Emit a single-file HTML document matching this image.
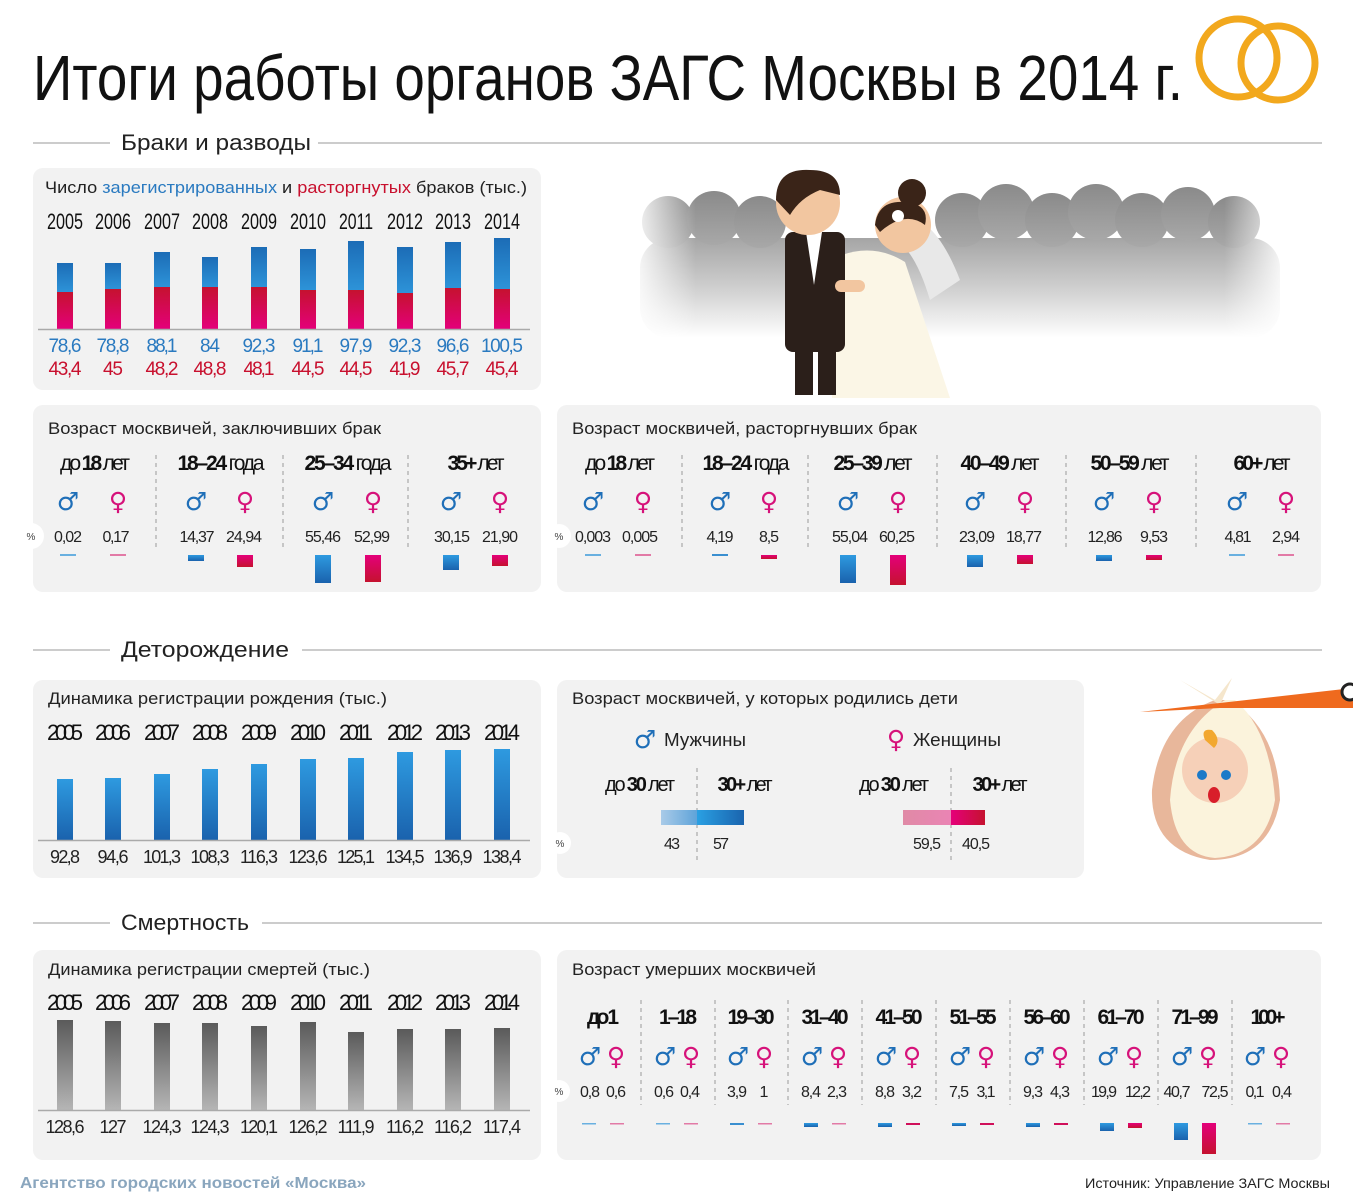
<!DOCTYPE html>
<html><head><meta charset="utf-8"><style>
html,body{margin:0;padding:0;background:#fff;width:1353px;height:1200px;overflow:hidden}
svg{display:block}
.n{font-family:"Liberation Sans",sans-serif}
.s{font-family:"Liberation Sans",sans-serif}
.m{fill:#1f6fb8;font-family:"DejaVu Sans",sans-serif;font-size:25px}
.f{fill:#d6127a;font-family:"DejaVu Sans",sans-serif;font-size:25px}
</style></head><body>
<svg width="1353" height="1200" viewBox="0 0 1353 1200" xmlns="http://www.w3.org/2000/svg" lengthAdjust="spacingAndGlyphs">
<defs>
<linearGradient id="gb" x1="0" y1="0" x2="0" y2="1"><stop offset="0" stop-color="#1c6cb6"/><stop offset="1" stop-color="#2d93d8"/></linearGradient>
<linearGradient id="gr" x1="0" y1="0" x2="0" y2="1"><stop offset="0" stop-color="#c5122f"/><stop offset="1" stop-color="#e4007a"/></linearGradient>
<linearGradient id="gb2" x1="0" y1="0" x2="0" y2="1"><stop offset="0" stop-color="#2e9ae0"/><stop offset="1" stop-color="#1a62ad"/></linearGradient>
<linearGradient id="gr2" x1="0" y1="0" x2="0" y2="1"><stop offset="0" stop-color="#e4007a"/><stop offset="1" stop-color="#c5122f"/></linearGradient>
<linearGradient id="gg" x1="0" y1="0" x2="0" y2="1"><stop offset="0" stop-color="#5a5a5a"/><stop offset="1" stop-color="#b5b5b5"/></linearGradient>
<linearGradient id="crowd" x1="0" y1="0" x2="0" y2="1"><stop offset="0" stop-color="#8a8a8a"/><stop offset="1" stop-color="#a8a8a8"/></linearGradient>
<linearGradient id="body" x1="0" y1="0" x2="0" y2="1"><stop offset="0" stop-color="#a5a5a5"/><stop offset="0.5" stop-color="#cfcfcf"/><stop offset="1" stop-color="#ffffff"/></linearGradient>
<linearGradient id="crowdh" x1="0" y1="0" x2="1" y2="0"><stop offset="0" stop-color="#fff" stop-opacity="1"/><stop offset="0.1" stop-color="#fff" stop-opacity="0"/><stop offset="0.9" stop-color="#fff" stop-opacity="0"/><stop offset="1" stop-color="#fff" stop-opacity="1"/></linearGradient>
<linearGradient id="bm" x1="0" y1="0" x2="1" y2="0"><stop offset="0" stop-color="#a9cbe8"/><stop offset="1" stop-color="#5fa3d9"/></linearGradient>
<linearGradient id="bm2" x1="0" y1="0" x2="1" y2="0"><stop offset="0" stop-color="#2aa0e3"/><stop offset="1" stop-color="#1a64ae"/></linearGradient>
<linearGradient id="fm" x1="0" y1="0" x2="1" y2="0"><stop offset="0" stop-color="#e08aa6"/><stop offset="1" stop-color="#ea84b4"/></linearGradient>
<linearGradient id="fm2" x1="0" y1="0" x2="1" y2="0"><stop offset="0" stop-color="#e5007a"/><stop offset="1" stop-color="#c5122f"/></linearGradient>
</defs>

<!-- Title -->
<text x="33" y="100" class="n" font-size="64" fill="#111" textLength="1150" lengthAdjust="spacingAndGlyphs">Итоги работы органов ЗАГС Москвы в 2014 г.</text>
<circle cx="1238" cy="58" r="39" fill="none" stroke="#f2a81d" stroke-width="7"/>
<circle cx="1278" cy="63" r="37" fill="none" stroke="#f2a81d" stroke-width="7"/>

<!-- Section 1 -->
<line x1="33" y1="143" x2="110" y2="143" stroke="#999" stroke-width="1"/>
<text x="121" y="150" class="s" font-size="22" fill="#222" textLength="190" lengthAdjust="spacingAndGlyphs">Браки и разводы</text>
<line x1="318" y1="143" x2="1322" y2="143" stroke="#999" stroke-width="1"/>

<!-- crowd -->
<rect x="640" y="238" width="640" height="100" rx="30" fill="url(#body)"/>
<g fill="url(#crowd)">
<circle cx="668" cy="222" r="26"/><circle cx="714" cy="218" r="27"/><circle cx="760" cy="222" r="26"/>
<circle cx="962" cy="220" r="27"/><circle cx="1006" cy="212" r="28"/><circle cx="1052" cy="220" r="27"/>
<circle cx="1096" cy="212" r="28"/><circle cx="1142" cy="220" r="27"/><circle cx="1188" cy="214" r="27"/><circle cx="1234" cy="222" r="26"/>
</g>
<rect x="630" y="180" width="660" height="190" fill="url(#crowdh)"/>
<!-- couple -->
<path d="M830 260 Q870 240 905 262 L950 398 L832 398 Z" fill="#fbf6e6"/>
<path d="M900 215 Q935 215 960 280 L930 300 Q915 250 895 240 Z" fill="#e8e8e8"/>
<rect x="785" y="232" width="60" height="120" rx="8" fill="#2b1f1a"/>
<rect x="795" y="345" width="18" height="50" fill="#2b1f1a"/><rect x="818" y="345" width="18" height="50" fill="#2b1f1a"/>
<polygon points="806,232 822,232 814,285" fill="#fff"/>
<circle cx="808" cy="203" r="32" fill="#f2c6a0"/>
<path d="M776 200 Q776 168 810 170 Q840 170 840 195 L820 190 Q800 198 790 215 Z" fill="#3a2418"/>
<circle cx="903" cy="225" r="28" fill="#f2c6a0"/>
<circle cx="912" cy="193" r="14" fill="#3a2418"/>
<path d="M875 225 Q878 200 905 202 Q930 204 925 225 Q905 210 880 232 Z" fill="#3a2418"/>
<circle cx="898" cy="216" r="6" fill="#fff"/>
<rect x="835" y="280" width="30" height="12" rx="6" fill="#f2c6a0"/>

<!-- Panel 1 -->
<rect x="33" y="168" width="508" height="222" rx="10" fill="#f2f2f2"/>
<text x="45" y="193" class="s" font-size="17" fill="#222" textLength="482" lengthAdjust="spacingAndGlyphs">Число <tspan fill="#2a7ac0">зарегистрированных</tspan> и <tspan fill="#c8102e">расторгнутых</tspan> браков (тыс.)</text>
<g class="n" font-size="22" fill="#111" text-anchor="middle">
<text x="65" y="229" textLength="36" lengthAdjust="spacingAndGlyphs">2005</text><text x="113" y="229" textLength="36" lengthAdjust="spacingAndGlyphs">2006</text><text x="162" y="229" textLength="36" lengthAdjust="spacingAndGlyphs">2007</text><text x="210" y="229" textLength="36" lengthAdjust="spacingAndGlyphs">2008</text><text x="259" y="229" textLength="36" lengthAdjust="spacingAndGlyphs">2009</text><text x="308" y="229" textLength="36" lengthAdjust="spacingAndGlyphs">2010</text><text x="356" y="229" textLength="34" lengthAdjust="spacingAndGlyphs">2011</text><text x="405" y="229" textLength="36" lengthAdjust="spacingAndGlyphs">2012</text><text x="453" y="229" textLength="36" lengthAdjust="spacingAndGlyphs">2013</text><text x="502" y="229" textLength="36" lengthAdjust="spacingAndGlyphs">2014</text>
</g>
<g fill="url(#gb)">
<rect x="57" y="263" width="16" height="29"/><rect x="105" y="263" width="16" height="26"/><rect x="154" y="252" width="16" height="35"/><rect x="202" y="257" width="16" height="30"/><rect x="251" y="247" width="16" height="40"/><rect x="300" y="249" width="16" height="41"/><rect x="348" y="241" width="16" height="49"/><rect x="397" y="247" width="16" height="46"/><rect x="445" y="242" width="16" height="46"/><rect x="494" y="238" width="16" height="51"/>
</g>
<g fill="url(#gr)">
<rect x="57" y="292" width="16" height="37"/><rect x="105" y="289" width="16" height="40"/><rect x="154" y="287" width="16" height="42"/><rect x="202" y="287" width="16" height="42"/><rect x="251" y="287" width="16" height="42"/><rect x="300" y="290" width="16" height="39"/><rect x="348" y="290" width="16" height="39"/><rect x="397" y="293" width="16" height="36"/><rect x="445" y="288" width="16" height="41"/><rect x="494" y="289" width="16" height="40"/>
</g>
<line x1="38" y1="329.5" x2="530" y2="329.5" stroke="#aaa" stroke-width="1.5"/>
<g class="n" font-size="19" fill="#2a7ac0" text-anchor="middle" lengthAdjust="spacingAndGlyphs">
<text x="65" y="352" textLength="33">78,6</text><text x="113" y="352" textLength="33">78,8</text><text x="162" y="352" textLength="31">88,1</text><text x="210" y="352" textLength="20">84</text><text x="259" y="352" textLength="33">92,3</text><text x="308" y="352" textLength="31">91,1</text><text x="356" y="352" textLength="33">97,9</text><text x="405" y="352" textLength="33">92,3</text><text x="453" y="352" textLength="33">96,6</text><text x="502" y="352" textLength="42">100,5</text>
</g>
<g class="n" font-size="19" fill="#c8102e" text-anchor="middle" lengthAdjust="spacingAndGlyphs">
<text x="65" y="375" textLength="33">43,4</text><text x="113" y="375" textLength="20">45</text><text x="162" y="375" textLength="33">48,2</text><text x="210" y="375" textLength="33">48,8</text><text x="259" y="375" textLength="31">48,1</text><text x="308" y="375" textLength="33">44,5</text><text x="356" y="375" textLength="33">44,5</text><text x="405" y="375" textLength="31">41,9</text><text x="453" y="375" textLength="33">45,7</text><text x="502" y="375" textLength="33">45,4</text>
</g>

<!-- Panel 2 -->
<rect x="33" y="405" width="508" height="187" rx="10" fill="#f2f2f2"/>
<text x="48" y="434" class="s" font-size="17" fill="#222" textLength="333" lengthAdjust="spacingAndGlyphs">Возраст москвичей, заключивших брак</text>
<g class="n" font-size="21" fill="#111" text-anchor="middle" lengthAdjust="spacingAndGlyphs">
<text x="95" y="470" textLength="70">до <tspan font-weight="bold">18</tspan> лет</text>
<text x="221" y="470" textLength="87"><tspan font-weight="bold">18–24</tspan> года</text>
<text x="348" y="470" textLength="87"><tspan font-weight="bold">25–34</tspan> года</text>
<text x="476" y="470" textLength="57"><tspan font-weight="bold">35+</tspan> лет</text>
</g>
<g stroke="#999" stroke-dasharray="4,4" stroke-width="1"><line x1="156" y1="455" x2="156" y2="550"/><line x1="283" y1="455" x2="283" y2="550"/><line x1="408" y1="455" x2="408" y2="550"/></g>
<g text-anchor="middle">
<text x="68" y="510" class="m">♂</text><text x="118" y="510" class="f">♀</text>
<text x="196" y="510" class="m">♂</text><text x="245" y="510" class="f">♀</text>
<text x="323" y="510" class="m">♂</text><text x="373" y="510" class="f">♀</text>
<text x="451" y="510" class="m">♂</text><text x="500" y="510" class="f">♀</text>
</g>
<circle cx="31" cy="536" r="13" fill="#fff"/><text x="31" y="540" class="s" font-size="10" fill="#444" text-anchor="middle">%</text>
<g class="n" font-size="16" fill="#222" text-anchor="middle" lengthAdjust="spacingAndGlyphs">
<text x="68" y="542" textLength="28">0,02</text><text x="116" y="542" textLength="27">0,17</text><text x="197" y="542" textLength="35">14,37</text><text x="244" y="542" textLength="36">24,94</text><text x="323" y="542" textLength="36">55,46</text><text x="372" y="542" textLength="36">52,99</text><text x="452" y="542" textLength="36">30,15</text><text x="500" y="542" textLength="36">21,90</text>
</g>
<rect x="60" y="554" width="16" height="2" fill="#69b0e0"/><rect x="110" y="554" width="16" height="2" fill="#e27aa6"/>
<rect x="188" y="555" width="16" height="6" fill="url(#gb2)"/><rect x="237" y="555" width="16" height="12" fill="url(#gr2)"/>
<rect x="315" y="555" width="16" height="28" fill="url(#gb2)"/><rect x="365" y="555" width="16" height="27" fill="url(#gr2)"/>
<rect x="443" y="555" width="16" height="15" fill="url(#gb2)"/><rect x="492" y="555" width="16" height="11" fill="url(#gr2)"/>

<!-- Panel 3 -->
<rect x="557" y="405" width="764" height="187" rx="10" fill="#f2f2f2"/>
<text x="572" y="434" class="s" font-size="17" fill="#222" textLength="345" lengthAdjust="spacingAndGlyphs">Возраст москвичей, расторгнувших брак</text>
<g class="n" font-size="21" fill="#111" text-anchor="middle" lengthAdjust="spacingAndGlyphs">
<text x="620" y="470" textLength="70">до <tspan font-weight="bold">18</tspan> лет</text>
<text x="746" y="470" textLength="87"><tspan font-weight="bold">18–24</tspan> года</text>
<text x="873" y="470" textLength="79"><tspan font-weight="bold">25–39</tspan> лет</text>
<text x="1000" y="470" textLength="79"><tspan font-weight="bold">40–49</tspan> лет</text>
<text x="1130" y="470" textLength="79"><tspan font-weight="bold">50–59</tspan> лет</text>
<text x="1262" y="470" textLength="57"><tspan font-weight="bold">60+</tspan> лет</text>
</g>
<g stroke="#999" stroke-dasharray="4,4" stroke-width="1"><line x1="682" y1="455" x2="682" y2="550"/><line x1="808" y1="455" x2="808" y2="550"/><line x1="937" y1="455" x2="937" y2="550"/><line x1="1066" y1="455" x2="1066" y2="550"/><line x1="1196" y1="455" x2="1196" y2="550"/></g>
<g text-anchor="middle">
<text x="593" y="510" class="m">♂</text><text x="643" y="510" class="f">♀</text>
<text x="720" y="510" class="m">♂</text><text x="769" y="510" class="f">♀</text>
<text x="848" y="510" class="m">♂</text><text x="898" y="510" class="f">♀</text>
<text x="975" y="510" class="m">♂</text><text x="1025" y="510" class="f">♀</text>
<text x="1104" y="510" class="m">♂</text><text x="1154" y="510" class="f">♀</text>
<text x="1237" y="510" class="m">♂</text><text x="1286" y="510" class="f">♀</text>
</g>
<circle cx="559" cy="536" r="12" fill="#fff"/><text x="559" y="540" class="s" font-size="10" fill="#444" text-anchor="middle">%</text>
<g class="n" font-size="16" fill="#222" text-anchor="middle" lengthAdjust="spacingAndGlyphs">
<text x="593" y="542" textLength="36">0,003</text><text x="640" y="542" textLength="36">0,005</text><text x="720" y="542" textLength="27">4,19</text><text x="769" y="542" textLength="20">8,5</text><text x="850" y="542" textLength="36">55,04</text><text x="897" y="542" textLength="36">60,25</text><text x="977" y="542" textLength="36">23,09</text><text x="1024" y="542" textLength="36">18,77</text><text x="1105" y="542" textLength="35">12,86</text><text x="1154" y="542" textLength="28">9,53</text><text x="1238" y="542" textLength="27">4,81</text><text x="1286" y="542" textLength="28">2,94</text>
</g>
<rect x="585" y="554" width="16" height="2" fill="#69b0e0"/><rect x="635" y="554" width="16" height="2" fill="#e27aa6"/>
<rect x="712" y="554" width="16" height="2" fill="#3a8fd0"/><rect x="761" y="555" width="16" height="4" fill="url(#gr2)"/>
<rect x="840" y="555" width="16" height="28" fill="url(#gb2)"/><rect x="890" y="555" width="16" height="30" fill="url(#gr2)"/>
<rect x="967" y="555" width="16" height="12" fill="url(#gb2)"/><rect x="1017" y="555" width="16" height="9" fill="url(#gr2)"/>
<rect x="1096" y="555" width="16" height="6" fill="url(#gb2)"/><rect x="1146" y="555" width="16" height="5" fill="url(#gr2)"/>
<rect x="1229" y="554" width="16" height="2" fill="#69b0e0"/><rect x="1278" y="554" width="16" height="2" fill="#e27aa6"/>

<!-- Section 2 -->
<line x1="33" y1="650" x2="110" y2="650" stroke="#999"/>
<text x="121" y="657" class="s" font-size="22" fill="#222" textLength="168" lengthAdjust="spacingAndGlyphs">Деторождение</text>
<line x1="302" y1="650" x2="1322" y2="650" stroke="#999"/>

<rect x="33" y="680" width="508" height="198" rx="10" fill="#f2f2f2"/>
<text x="48" y="704" class="s" font-size="17" fill="#222" textLength="339" lengthAdjust="spacingAndGlyphs">Динамика регистрации рождения (тыс.)</text>
<g class="n" font-size="22" fill="#111" text-anchor="middle" lengthAdjust="spacingAndGlyphs">
<text x="65" y="740" textLength="36">2005</text><text x="113" y="740" textLength="36">2006</text><text x="162" y="740" textLength="36">2007</text><text x="210" y="740" textLength="36">2008</text><text x="259" y="740" textLength="36">2009</text><text x="308" y="740" textLength="36">2010</text><text x="356" y="740" textLength="34">2011</text><text x="405" y="740" textLength="36">2012</text><text x="453" y="740" textLength="36">2013</text><text x="502" y="740" textLength="36">2014</text>
</g>
<g fill="url(#gb2)">
<rect x="57" y="779" width="16" height="61"/><rect x="105" y="778" width="16" height="62"/><rect x="154" y="774" width="16" height="66"/><rect x="202" y="769" width="16" height="71"/><rect x="251" y="764" width="16" height="76"/><rect x="300" y="759" width="16" height="81"/><rect x="348" y="758" width="16" height="82"/><rect x="397" y="752" width="16" height="88"/><rect x="445" y="750" width="16" height="90"/><rect x="494" y="749" width="16" height="91"/>
</g>
<line x1="38" y1="840.5" x2="530" y2="840.5" stroke="#aaa" stroke-width="1.5"/>
<g class="n" font-size="18" fill="#222" text-anchor="middle" lengthAdjust="spacingAndGlyphs">
<text x="65" y="863" textLength="30">92,8</text><text x="113" y="863" textLength="31">94,6</text><text x="162" y="863" textLength="38">101,3</text><text x="210" y="863" textLength="39">108,3</text><text x="259" y="863" textLength="38">116,3</text><text x="308" y="863" textLength="39">123,6</text><text x="356" y="863" textLength="38">125,1</text><text x="405" y="863" textLength="39">134,5</text><text x="453" y="863" textLength="39">136,9</text><text x="502" y="863" textLength="39">138,4</text>
</g>

<rect x="557" y="680" width="527" height="198" rx="10" fill="#f2f2f2"/>
<text x="572" y="704" class="s" font-size="17" fill="#222" textLength="386" lengthAdjust="spacingAndGlyphs">Возраст москвичей, у которых родились дети</text>
<text x="645" y="748" class="m" text-anchor="middle">♂</text>
<text x="664" y="746" class="s" font-size="18" fill="#222" textLength="82" lengthAdjust="spacingAndGlyphs">Мужчины</text>
<text x="896" y="748" class="f" text-anchor="middle">♀</text>
<text x="913" y="746" class="s" font-size="18" fill="#222" textLength="88" lengthAdjust="spacingAndGlyphs">Женщины</text>
<g class="n" font-size="20" fill="#111" text-anchor="middle" lengthAdjust="spacingAndGlyphs">
<text x="640" y="791" textLength="70">до <tspan font-weight="bold">30</tspan> лет</text><text x="745" y="791" textLength="55"><tspan font-weight="bold">30+</tspan> лет</text>
<text x="894" y="791" textLength="70">до <tspan font-weight="bold">30</tspan> лет</text><text x="1000" y="791" textLength="55"><tspan font-weight="bold">30+</tspan> лет</text>
</g>
<g stroke="#999" stroke-dasharray="4,4"><line x1="697" y1="768" x2="697" y2="860"/><line x1="951" y1="768" x2="951" y2="860"/></g>
<rect x="661" y="810" width="36" height="15" fill="url(#bm)"/><rect x="697" y="810" width="47" height="15" fill="url(#bm2)"/>
<rect x="903" y="810" width="48" height="15" fill="url(#fm)"/><rect x="951" y="810" width="34" height="15" fill="url(#fm2)"/>
<circle cx="560" cy="843" r="11" fill="#fff"/><text x="560" y="847" class="s" font-size="10" fill="#444" text-anchor="middle">%</text>
<g class="n" font-size="16" fill="#222" text-anchor="middle" lengthAdjust="spacingAndGlyphs">
<text x="672" y="849" textLength="16">43</text><text x="721" y="849" textLength="16">57</text><text x="927" y="849" textLength="28">59,5</text><text x="976" y="849" textLength="28">40,5</text>
</g>

<!-- stork & baby -->
<path d="M1215 700 Q1160 720 1152 790 Q1150 850 1210 860 Q1270 860 1280 800 Q1278 730 1230 700 Z" fill="#e8b79b"/>
<path d="M1225 700 Q1175 730 1170 800 Q1175 855 1215 858 Q1265 855 1275 800 Q1270 730 1235 700 Z" fill="#fbf3dc"/>
<path d="M1180 680 L1215 700 L1232 678 L1220 705 Z" fill="#f5e6cc"/>
<polygon points="1140,712 1353,688 1353,708 1220,708" fill="#ef6a1e"/>
<circle cx="1215" cy="770" r="33" fill="#f6d0b8"/>
<path d="M1205 740 Q1200 728 1212 730 Q1222 740 1214 748 Z" fill="#f2a830"/>
<circle cx="1202" cy="775" r="5" fill="#1c7ac8"/><circle cx="1226" cy="775" r="5" fill="#1c7ac8"/>
<ellipse cx="1214" cy="795" rx="6" ry="8" fill="#d81e2a"/>
<circle cx="1350" cy="692" r="8" fill="#fff" stroke="#222" stroke-width="3"/>

<!-- Section 3 -->
<line x1="33" y1="923" x2="110" y2="923" stroke="#999"/>
<text x="121" y="930" class="s" font-size="22" fill="#222" textLength="128" lengthAdjust="spacingAndGlyphs">Смертность</text>
<line x1="262" y1="923" x2="1322" y2="923" stroke="#999"/>

<rect x="33" y="950" width="508" height="210" rx="10" fill="#f2f2f2"/>
<text x="48" y="975" class="s" font-size="17" fill="#222" textLength="322" lengthAdjust="spacingAndGlyphs">Динамика регистрации смертей (тыс.)</text>
<g class="n" font-size="22" fill="#111" text-anchor="middle" lengthAdjust="spacingAndGlyphs">
<text x="65" y="1010" textLength="36">2005</text><text x="113" y="1010" textLength="36">2006</text><text x="162" y="1010" textLength="36">2007</text><text x="210" y="1010" textLength="36">2008</text><text x="259" y="1010" textLength="36">2009</text><text x="308" y="1010" textLength="36">2010</text><text x="356" y="1010" textLength="34">2011</text><text x="405" y="1010" textLength="36">2012</text><text x="453" y="1010" textLength="36">2013</text><text x="502" y="1010" textLength="36">2014</text>
</g>
<g fill="url(#gg)">
<rect x="57" y="1020" width="16" height="90"/><rect x="105" y="1021" width="16" height="89"/><rect x="154" y="1023" width="16" height="87"/><rect x="202" y="1023" width="16" height="87"/><rect x="251" y="1026" width="16" height="84"/><rect x="300" y="1022" width="16" height="88"/><rect x="348" y="1032" width="16" height="78"/><rect x="397" y="1029" width="16" height="81"/><rect x="445" y="1029" width="16" height="81"/><rect x="494" y="1028" width="16" height="82"/>
</g>
<line x1="38" y1="1110.5" x2="530" y2="1110.5" stroke="#aaa" stroke-width="1.5"/>
<g class="n" font-size="18" fill="#222" text-anchor="middle" lengthAdjust="spacingAndGlyphs">
<text x="65" y="1133" textLength="39">128,6</text><text x="113" y="1133" textLength="27">127</text><text x="162" y="1133" textLength="39">124,3</text><text x="210" y="1133" textLength="39">124,3</text><text x="259" y="1133" textLength="38">120,1</text><text x="308" y="1133" textLength="39">126,2</text><text x="356" y="1133" textLength="37">111,9</text><text x="405" y="1133" textLength="38">116,2</text><text x="453" y="1133" textLength="38">116,2</text><text x="502" y="1133" textLength="38">117,4</text>
</g>

<rect x="557" y="950" width="764" height="210" rx="10" fill="#f2f2f2"/>
<text x="572" y="975" class="s" font-size="17" fill="#222" textLength="244" lengthAdjust="spacingAndGlyphs">Возраст умерших москвичей</text>
<g class="n" font-size="21" font-weight="bold" fill="#111" text-anchor="middle" lengthAdjust="spacingAndGlyphs">
<text x="603" y="1024" textLength="32">до 1</text><text x="678" y="1024" textLength="38">1–18</text><text x="751" y="1024" textLength="47">19–30</text><text x="825" y="1024" textLength="47">31–40</text><text x="899" y="1024" textLength="47">41–50</text><text x="973" y="1024" textLength="47">51–55</text><text x="1047" y="1024" textLength="47">56–60</text><text x="1121" y="1024" textLength="47">61–70</text><text x="1195" y="1024" textLength="47">71–99</text><text x="1268" y="1024" textLength="35">100+</text>
</g>
<g stroke="#999" stroke-dasharray="4,4"><line x1="641" y1="1000" x2="641" y2="1105"/><line x1="715" y1="1000" x2="715" y2="1105"/><line x1="788" y1="1000" x2="788" y2="1105"/><line x1="862" y1="1000" x2="862" y2="1105"/><line x1="936" y1="1000" x2="936" y2="1105"/><line x1="1010" y1="1000" x2="1010" y2="1105"/><line x1="1084" y1="1000" x2="1084" y2="1105"/><line x1="1158" y1="1000" x2="1158" y2="1105"/><line x1="1232" y1="1000" x2="1232" y2="1105"/></g>
<g text-anchor="middle">
<text x="590" y="1065" class="m">♂</text><text x="616" y="1065" class="f">♀</text>
<text x="665" y="1065" class="m">♂</text><text x="691" y="1065" class="f">♀</text>
<text x="738" y="1065" class="m">♂</text><text x="764" y="1065" class="f">♀</text>
<text x="812" y="1065" class="m">♂</text><text x="838" y="1065" class="f">♀</text>
<text x="886" y="1065" class="m">♂</text><text x="912" y="1065" class="f">♀</text>
<text x="960" y="1065" class="m">♂</text><text x="986" y="1065" class="f">♀</text>
<text x="1034" y="1065" class="m">♂</text><text x="1060" y="1065" class="f">♀</text>
<text x="1108" y="1065" class="m">♂</text><text x="1134" y="1065" class="f">♀</text>
<text x="1182" y="1065" class="m">♂</text><text x="1208" y="1065" class="f">♀</text>
<text x="1255" y="1065" class="m">♂</text><text x="1281" y="1065" class="f">♀</text>
</g>
<circle cx="559" cy="1091" r="11" fill="#fff"/><text x="559" y="1095" class="s" font-size="10" fill="#444" text-anchor="middle">%</text>
<g class="n" font-size="16" fill="#222" text-anchor="middle" lengthAdjust="spacingAndGlyphs">
<text x="590" y="1097" textLength="20">0,8</text><text x="616" y="1097" textLength="20">0,6</text><text x="664" y="1097" textLength="20">0,6</text><text x="690" y="1097" textLength="20">0,4</text><text x="737" y="1097" textLength="20">3,9</text><text x="764" y="1097" textLength="6">1</text><text x="811" y="1097" textLength="20">8,4</text><text x="837" y="1097" textLength="20">2,3</text><text x="885" y="1097" textLength="20">8,8</text><text x="912" y="1097" textLength="20">3,2</text><text x="959" y="1097" textLength="20">7,5</text><text x="986" y="1097" textLength="19">3,1</text><text x="1033" y="1097" textLength="20">9,3</text><text x="1060" y="1097" textLength="20">4,3</text><text x="1104" y="1097" textLength="26">19,9</text><text x="1138" y="1097" textLength="26">12,2</text><text x="1177" y="1097" textLength="27">40,7</text><text x="1215" y="1097" textLength="27">72,5</text><text x="1255" y="1097" textLength="19">0,1</text><text x="1282" y="1097" textLength="20">0,4</text>
</g>
<g>
<rect x="582" y="1123" width="14" height="1.5" fill="#69b0e0"/><rect x="610" y="1123" width="14" height="1.5" fill="#e27aa6"/>
<rect x="656" y="1123" width="14" height="1.5" fill="#69b0e0"/><rect x="684" y="1123" width="14" height="1.5" fill="#e27aa6"/>
<rect x="730" y="1123" width="14" height="2" fill="#3a8fd0"/><rect x="758" y="1123" width="14" height="1.5" fill="#e27aa6"/>
<rect x="804" y="1123" width="14" height="4" fill="url(#gb2)"/><rect x="832" y="1123" width="14" height="1.5" fill="#e27aa6"/>
<rect x="878" y="1123" width="14" height="4" fill="url(#gb2)"/><rect x="906" y="1123" width="14" height="2" fill="#d0105a"/>
<rect x="952" y="1123" width="14" height="3" fill="url(#gb2)"/><rect x="980" y="1123" width="14" height="2" fill="#d0105a"/>
<rect x="1026" y="1123" width="14" height="4" fill="url(#gb2)"/><rect x="1054" y="1123" width="14" height="2" fill="#d0105a"/>
<rect x="1100" y="1123" width="14" height="8" fill="url(#gb2)"/><rect x="1128" y="1123" width="14" height="5" fill="url(#gr2)"/>
<rect x="1174" y="1123" width="14" height="17" fill="url(#gb2)"/><rect x="1202" y="1123" width="14" height="31" fill="url(#gr2)"/>
<rect x="1248" y="1123" width="14" height="1.5" fill="#69b0e0"/><rect x="1276" y="1123" width="14" height="1.5" fill="#e27aa6"/>
</g>

<!-- Footer -->
<text x="20" y="1188" class="s" font-size="16" font-weight="bold" fill="#8aa6be" textLength="346" lengthAdjust="spacingAndGlyphs">Агентство городских новостей «Москва»</text>
<text x="1330" y="1188" class="s" font-size="14" fill="#222" text-anchor="end" textLength="245" lengthAdjust="spacingAndGlyphs">Источник: Управление ЗАГС Москвы</text>
</svg>
</body></html>
